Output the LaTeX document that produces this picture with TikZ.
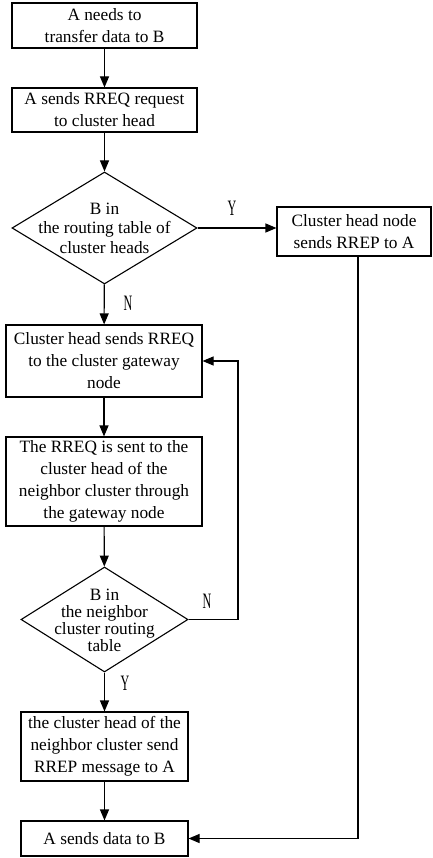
\documentclass[tikz,border=0pt]{standalone}
\usepackage{fontspec}
\setmainfont{Liberation Serif}
\usetikzlibrary{shapes.geometric,arrows.meta}
\begin{document}
\begin{tikzpicture}[x=1pt,y=-1pt,
  every node/.style={inner sep=0pt},
  box/.style={draw,line width=1.1pt,rectangle,align=center,font=\fontsize{17.3}{22}\selectfont},
  dia/.style={draw,line width=1.1pt,diamond,inner sep=0pt},
  dtext/.style={align=center},
  yn/.style={font=\fontsize{22}{22}\selectfont},
  conn/.style={line width=1.1pt,-{Triangle[length=11pt,width=9pt]}},
  plain/.style={line width=1.1pt}]
\useasboundingbox (0,0) rectangle (432,858);
\node[box,minimum width=185pt,minimum height=45pt] (b1) at (104.5,25.5) {A needs to\\transfer data to B};
\node[box,minimum width=185pt,minimum height=44pt] (b2) at (104.5,110) {A sends RREQ request\\to cluster head};
\node[dia,minimum width=185pt,minimum height=112pt] (d1) at (104.5,228) {};
\node[dtext,font=\fontsize{17.3}{19.5}\selectfont] (d1t) at (104.5,228) {B in\\the routing table of\\cluster heads};
\node[box,minimum width=154pt,minimum height=49pt] (r1) at (354,231.5) {Cluster head node\\sends RREP to A};
\node[box,minimum width=196pt,minimum height=72pt] (b3) at (104,361) {Cluster head sends RREQ\\to the cluster gateway\\node};
\node[box,minimum width=196pt,minimum height=89pt] (b4) at (104,481.5) {The RREQ is sent to the\\cluster head of the\\neighbor cluster through\\the gateway node};
\node[dia,minimum width=167pt,minimum height=105pt] (d2) at (104.5,619.5) {};
\node[dtext,font=\fontsize{17.3}{17}\selectfont] (d2t) at (104.5,620) {B in\\the neighbor\\cluster routing\\table};
\node[box,minimum width=167pt,minimum height=69pt] (b5) at (104.5,746.5) {the cluster head of the\\neighbor cluster send\\RREP message to A};
\node[box,minimum width=167pt,minimum height=35pt] (b6) at (104.5,838.5) {A sends data to B};
\coordinate (c1) at (358,838.5);
\coordinate (c2) at (238,619.5);
\draw[conn] (b1) -- (b2);
\draw[conn] (b2) -- (d1);
\draw[conn] (d1.east) -- (r1.west |- d1.east);
\draw[conn] (d1) -- (b3);
\draw[conn] (b3) -- (b4);
\draw[conn] (b4) -- (d2);
\draw[conn] (d2) -- (b5);
\draw[conn] (b5) -- (b6);
\draw[conn] (d2.east) -- (c2) |- (b3.east);
\draw[conn] (r1.south -| c1) -- (c1) -- (b6.east);
\node[yn] (ly1) at (232,208) {\scalebox{0.55}[1]{Y}};
\node[yn] (ln1) at (128,303) {\scalebox{0.55}[1]{N}};
\node[yn] (ln2) at (207,601) {\scalebox{0.55}[1]{N}};
\node[yn] (ly2) at (125,683) {\scalebox{0.55}[1]{Y}};
\end{tikzpicture}
\end{document}
